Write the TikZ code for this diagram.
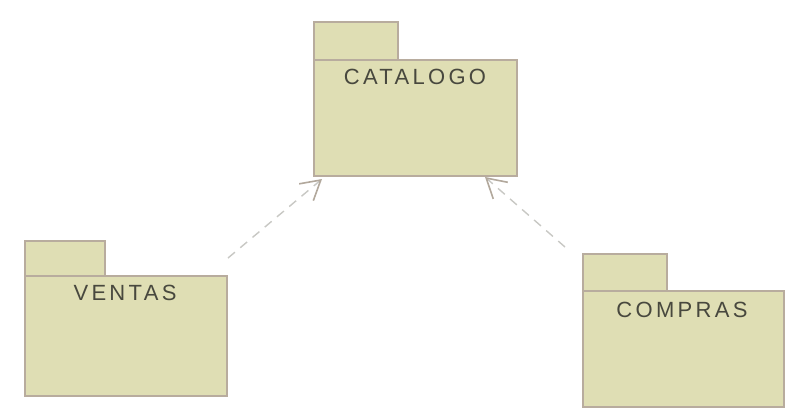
\documentclass[tikz,border=0pt]{standalone}
\usepackage{fontspec}
\setmainfont{Liberation Sans}
\newfontfamily\pkgfont[LetterSpace=15]{Liberation Sans}
\usetikzlibrary{arrows.meta}
\definecolor{pkgfill}{RGB}{223,222,180}
\definecolor{pkgline}{RGB}{184,172,158}
\definecolor{pkgtext}{RGB}{72,72,62}
\definecolor{deplinecol}{RGB}{200,200,196}
\definecolor{depheadcol}{RGB}{178,168,156}
\tikzset{
  pkgbody/.style={draw=pkgline, fill=pkgfill, line width=1.5pt, inner sep=0pt, outer sep=0pt, anchor=north west},
  pkgtab/.style={draw=pkgline, fill=pkgfill, line width=1.5pt, inner sep=0pt, outer sep=0pt, anchor=south west},
  pkglabel/.style={text=pkgtext, font=\pkgfont\fontsize{22}{26}\selectfont, inner sep=0pt},
  dependency/.style={draw=deplinecol, line width=1.4pt, dash pattern=on 9pt off 7pt,
    -{Straight Barb[length=19pt,width=22pt,line width=1.6pt,color=depheadcol]}}
}
\begin{document}
\begin{tikzpicture}[x=1pt,y=-1pt]
  \useasboundingbox (0,0) rectangle (786,410);
  \fill[white] (0,0) rectangle (786,410);

  % CATALOGO package
  \node[pkgbody, minimum width=203pt, minimum height=116pt] (cat) at (314,60) {};
  \node[pkgtab, minimum width=84pt, minimum height=38pt] (cattab) at (cat.north west) {};
  \node[pkglabel] (catlbl) at (415,77) {CATALOGO};

  % VENTAS package
  \node[pkgbody, minimum width=202pt, minimum height=120pt] (ven) at (25,276) {};
  \node[pkgtab, minimum width=80pt, minimum height=35pt] (ventab) at (ven.north west) {};
  \node[pkglabel] (venlbl) at (125,293) {VENTAS};

  % COMPRAS package
  \node[pkgbody, minimum width=201pt, minimum height=116pt] (com) at (583,291) {};
  \node[pkgtab, minimum width=84pt, minimum height=37pt] (comtab) at (com.north west) {};
  \node[pkglabel] (comlbl) at (682,310) {COMPRAS};

  % dependency arrows
  \coordinate (ventail) at (228,258);
  \coordinate (comtail) at (565,247);
  \coordinate (cattipl) at ([xshift=8pt,yshift=-3pt]cat.south west);
  \coordinate (cattipr) at ([xshift=-32pt,yshift=-1pt]cat.south east);
  \draw[dependency] (ventail) -- (cattipl);
  \draw[dependency] (comtail) -- (cattipr);
\end{tikzpicture}
\end{document}
